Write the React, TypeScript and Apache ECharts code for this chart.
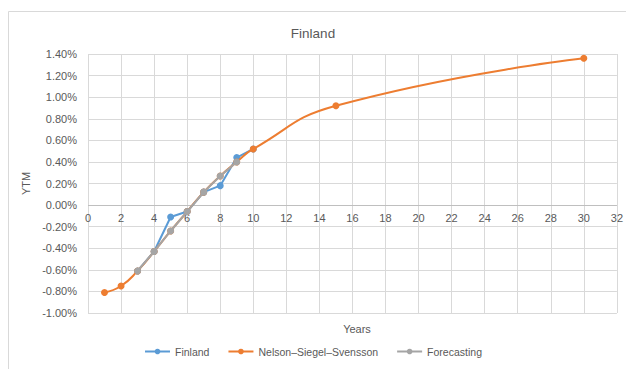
import React, { useEffect, useRef } from "react";
import * as echarts from "echarts";

const finlandYears = [3, 4, 5, 6, 7, 8, 9, 10];
const finlandValues = [-0.61, -0.43, -0.11, -0.06, 0.12, 0.18, 0.44, 0.52];
const nssYears = [1, 2, 3, 4, 5, 6, 7, 8, 9, 10, 15, 30];
const nssValues = [-0.81, -0.75, -0.61, -0.43, -0.24, -0.06, 0.12, 0.27, 0.4, 0.52, 0.92, 1.36];
const forecastYears = [3, 4, 5, 6, 7, 8, 9];
const forecastValues = [-0.61, -0.43, -0.24, -0.06, 0.12, 0.27, 0.4];

const seriesNames = ["Finland", "Nelson–Siegel–Svensson", "Forecasting"];
const colors = ["#5B9BD5", "#ED7D31", "#A5A5A5"];

const pair = (xs: number[], ys: number[]) => xs.map((x, i) => [x, ys[i]]);

export default function App() {
  const ref = useRef<HTMLDivElement>(null);
  useEffect(() => {
    document.body.style.margin = "0";
    const chart = echarts.init(ref.current!, null, { renderer: "svg" });
    const font = "'Liberation Sans', Arial, sans-serif";
    const txt = "#595959";
    chart.setOption({
      animation: false,
      color: colors,
      textStyle: { fontFamily: font },
      title: [
        {
          text: "Finland",
          left: "center",
          top: 21,
          textStyle: { fontSize: 13.5, fontWeight: "normal", color: txt, fontFamily: font },
        },
        {
          text: "Years",
          left: 352,
          top: 318,
          textAlign: "center",
          textStyle: { fontSize: 11, fontWeight: "normal", color: txt, fontFamily: font },
        },
      ],
      graphic: [
        {
          type: "rect",
          shape: { x: 8.5, y: 11.5, width: 700, height: 400 },
          style: { fill: "none", stroke: "#d9d9d9", lineWidth: 1 },
          silent: true,
        },
      ],
      legend: {
        data: seriesNames,
        bottom: 7,
        left: "center",
        itemWidth: 25,
        itemHeight: 7,
        itemGap: 18,
        textStyle: { fontSize: 10.5, color: txt, fontFamily: font },
      },
      grid: { left: 88, right: 9, top: 54, bottom: 56, containLabel: false },
      xAxis: {
        type: "value",
        min: 0,
        max: 32,
        interval: 2,
        axisLine: { show: false },
        axisTick: { show: false },
        axisLabel: { fontSize: 11, color: txt, margin: -101, showMinLabel: true, showMaxLabel: true },
        splitLine: { show: true, lineStyle: { color: "#d9d9d9" } },
      },
      yAxis: {
        type: "value",
        min: -1.0,
        max: 1.4,
        interval: 0.2,
        name: "YTM",
        nameLocation: "middle",
        nameGap: 50,
        nameTextStyle: { fontSize: 11, color: txt },
        axisLine: { show: false },
        axisTick: { show: false },
        axisLabel: {
          fontSize: 11,
          color: txt,
          margin: 11,
          formatter: (v: number) => v.toFixed(2) + "%",
        },
        splitLine: { show: true, lineStyle: { color: "#d9d9d9" } },
      },
      series: [
        {
          name: seriesNames[0],
          type: "line",
          data: pair(finlandYears, finlandValues),
          symbol: "circle",
          symbolSize: 7,
          lineStyle: { width: 2 },
          z: 2,
          markLine: {
            silent: true,
            symbol: "none",
            label: { show: false },
            lineStyle: { color: "#bfbfbf", type: "solid", width: 1 },
            data: [{ yAxis: 0 }],
            z: 1,
          },
        },
        {
          name: seriesNames[1],
          type: "line",
          data: pair(nssYears, nssValues),
          symbol: "circle",
          symbolSize: 7,
          smooth: 0.5,
          lineStyle: { width: 2 },
          z: 3,
        },
        {
          name: seriesNames[2],
          type: "line",
          data: pair(forecastYears, forecastValues),
          symbol: "circle",
          symbolSize: 7,
          lineStyle: { width: 2 },
          z: 4,
        },
      ],
    });
    return () => chart.dispose();
  }, []);
  return <div ref={ref} style={{ width: 626, height: 369 }} />;
}
